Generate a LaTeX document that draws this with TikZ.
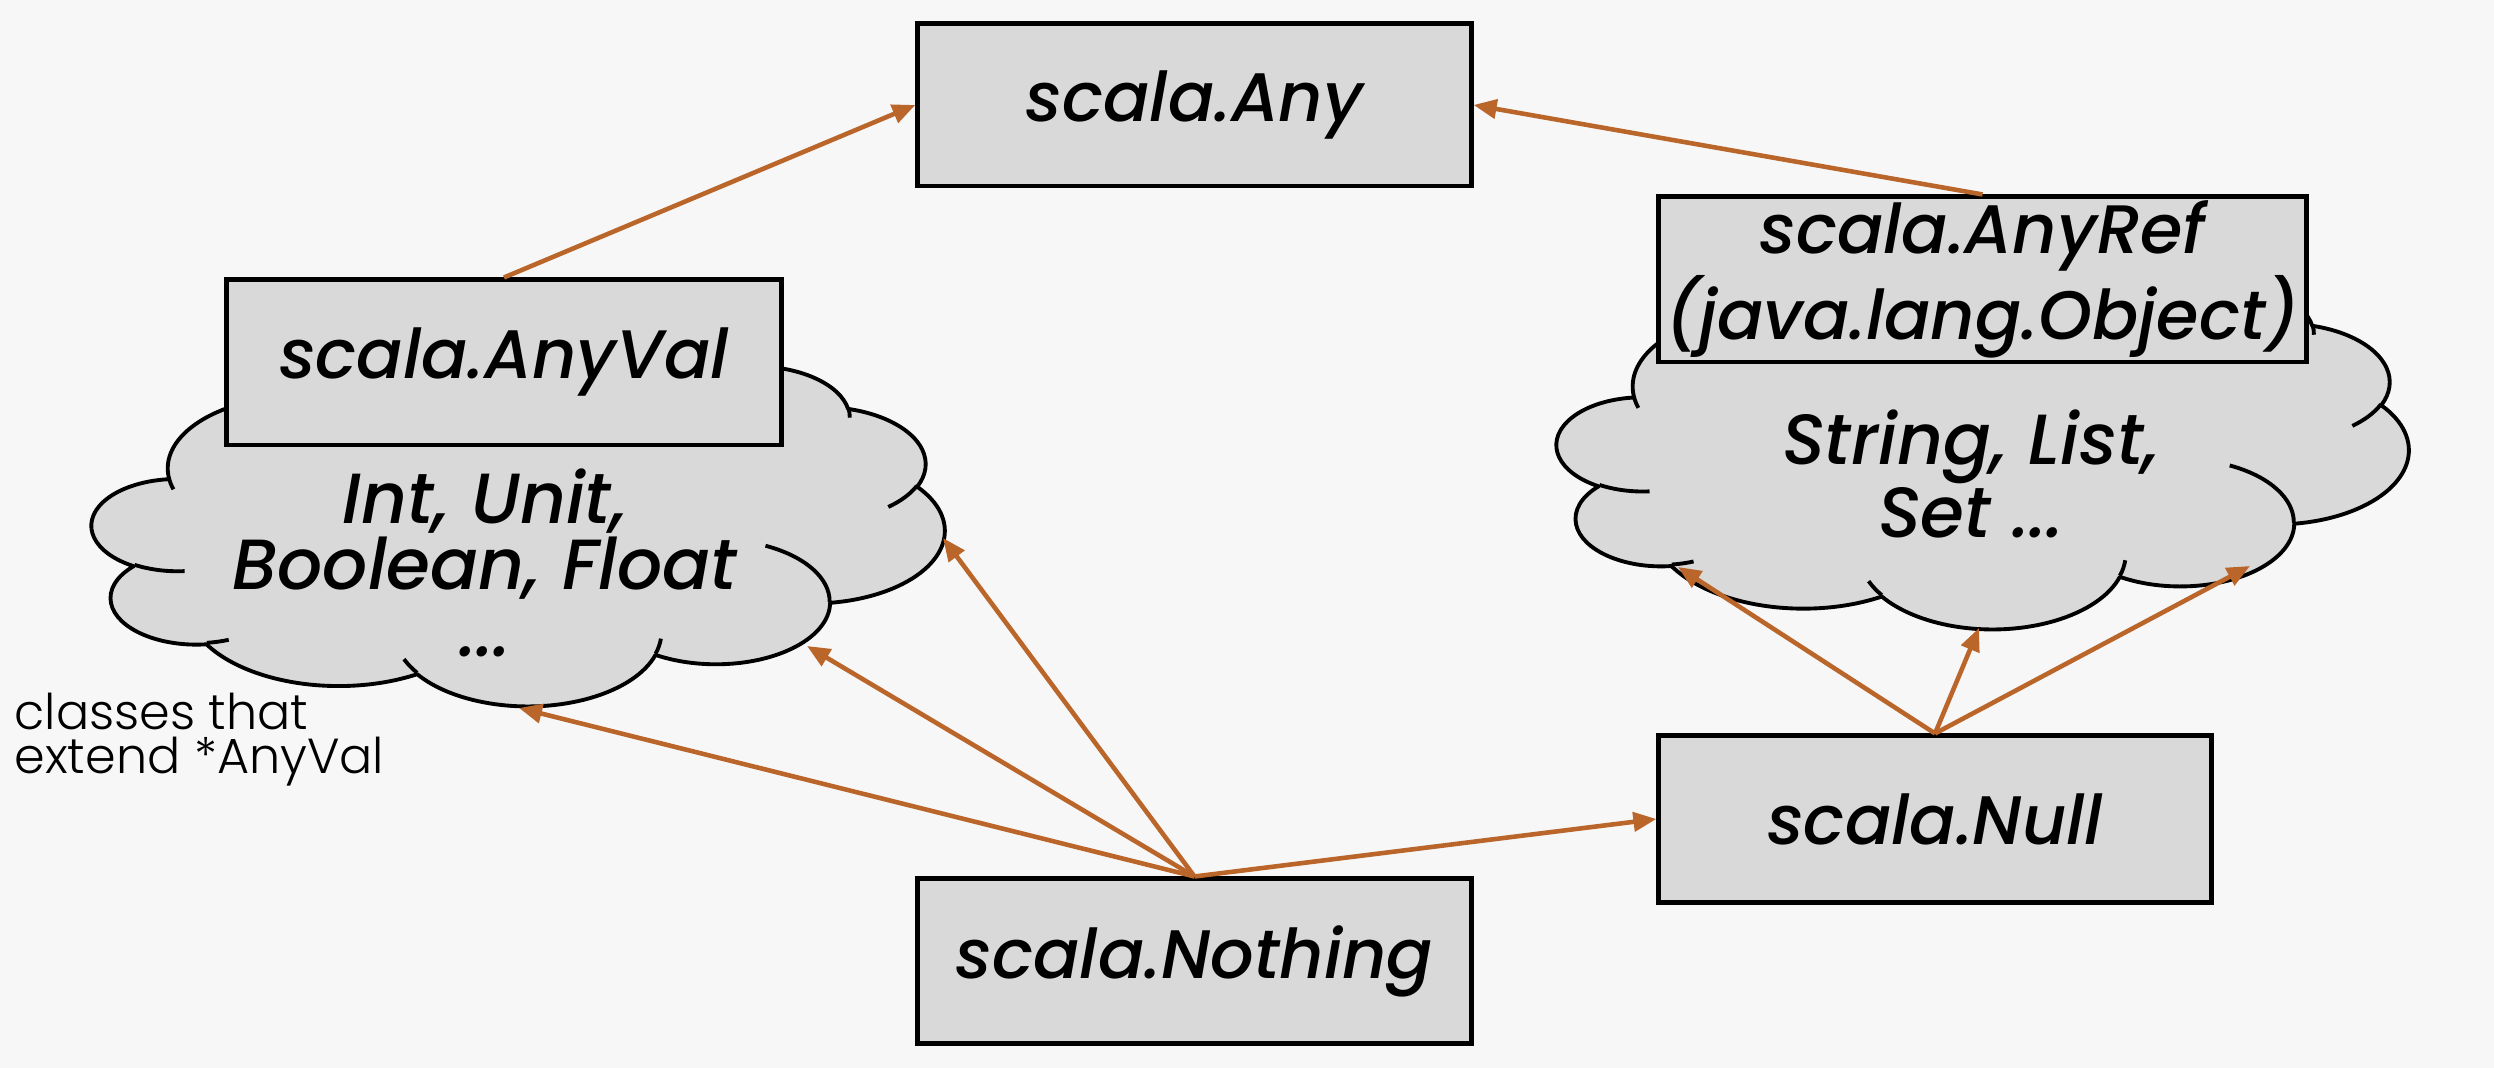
\documentclass[tikz,border=0pt]{standalone}
\usepackage{fontspec}
\usetikzlibrary{arrows.meta}
\newfontfamily\popm{Poppins}[UprightFont=* Medium, ItalicFont=* Medium Italic]
\newfontfamily\poplight{Poppins}[UprightFont=* Light]
\definecolor{bgc}{HTML}{F7F7F7}
\definecolor{boxc}{HTML}{D9D9D9}
\definecolor{arrc}{HTML}{BA6529}
\newcommand\carc[4]{%
  \pgfextra{%
    \pgfmathsetmacro\clA{atan2((#1)*sin(#3),(#2)*cos(#3))}%
    \pgfmathsetmacro\clB{atan2((#1)*sin((#3)+(#4)),(#2)*cos((#3)+(#4)))}%
    \pgfmathsetmacro\clD{mod(\clB-(\clA)+720,360)}%
    \global\let\gclA\clA\global\let\gclD\clD}%
  arc[start angle=\gclA, delta angle=\gclD, x radius=#1, y radius=#2]}
\newcommand\cloudoutline{%
 (3.900,14.370)
 \carc{6.753}{9.190}{-190.4875}{123.7805}
 \carc{5.333}{7.267}{-144.1024}{89.9452}
 \carc{4.365}{5.945}{-145.8079}{99.7230}
 \carc{4.857}{6.595}{-130.9861}{117.2417}
 \carc{5.333}{7.273}{-78.7089}{109.0269}
 \carc{6.775}{9.220}{-46.2673}{130.2690}
 \carc{5.785}{7.867}{0.6250}{114.0333}
 \carc{6.752}{9.215}{22.4516}{115.1726}
 \carc{7.720}{10.543}{66.2426}{75.7110}
 \carc{4.360}{5.918}{-274.9421}{146.7356}
 \carc{4.345}{5.945}{-246.8285}{152.5189}
 -- cycle}
\newcommand\cloudinner{%
 (4.693,26.177) \carc{4.345}{5.945}{86.7420}{26.4295}
 (6.928,34.899) \carc{4.360}{5.918}{73.6105}{11.4475}
 (16.478,39.090) \carc{6.752}{9.215}{137.6242}{14.0811}
 (28.827,34.751) \carc{6.752}{9.215}{6.4533}{15.9984}
 (34.129,22.954) \carc{5.785}{7.867}{-70.2924}{70.9174}
 (41.798,15.354) \carc{5.333}{7.273}{30.3180}{27.7515}
 (38.324,5.426) \carc{4.857}{6.595}{-13.7443}{14.8589}
 (29.078,3.952) \carc{4.857}{6.595}{-149.1815}{18.1954}
 (22.141,4.720) \carc{4.365}{5.945}{-163.4943}{17.6864}
 (14.000,5.192) \carc{6.753}{9.190}{-66.7070}{12.3194}
 (4.127,15.789) \carc{6.753}{9.190}{157.6544}{11.8582}}
\tikzset{
  box/.style={draw=black, line width=1.4pt, fill=boxc, inner sep=0pt, align=center,
    font=\popm\itshape\fontsize{19.5}{19}\selectfont},
  cloudtext/.style={inner sep=0pt, align=center, font=\popm\itshape\fontsize{20.2}{15.2}\selectfont},
  cloudfill/.style={fill=boxc, draw=black, line width=1.1pt, line join=round},
  cloudline/.style={draw=black, line width=1.1pt},
  conn/.style={draw=arrc, line width=1.3pt, -{Triangle[length=0.23cm,width=0.19cm]}},
}
\begin{document}
\begin{tikzpicture}[x=0.01cm, y=-0.01cm]
\fill[bgc] (0,0) rectangle (2494,1068);
\useasboundingbox (0,0) rectangle (2494,1068);
% clouds
\begin{scope}[shift={(92,365)}, x=0.19722cm, y=-0.07870cm]
  \path[cloudfill] \cloudoutline;
  \draw[cloudline] \cloudinner;
\end{scope}
\begin{scope}[shift={(1557,281)}, x=0.19699cm, y=-0.08032cm]
  \path[cloudfill] \cloudoutline;
  \draw[cloudline] \cloudinner;
\end{scope}
% boxes
\node[box, minimum width=5.53cm, minimum height=1.62cm] (any) at (1194.5,105) {scala.Any};
\node[box, minimum width=5.54cm, minimum height=1.65cm] (anyval) at (504,362.5) {scala.AnyVal};
\node[box, minimum width=6.47cm, minimum height=1.65cm] (anyref) at (1982.5,279.5) {scala.AnyRef\\(java.lang.Object)};
\node[box, minimum width=5.52cm, minimum height=1.66cm] (null) at (1935,819) {scala.Null};
\node[box, minimum width=5.53cm, minimum height=1.64cm] (nothing) at (1194.5,961) {scala.Nothing};
% cloud texts
\node[cloudtext] (valtxt) at (485,563) {Int, Unit,\\Boolean, Float\\[0.13cm]...};
\node[cloudtext] (reftxt) at (1971,474) {String, List,\\Set ...};
\node[inner sep=0pt, anchor=north west, align=left, font=\poplight\fontsize{14}{12.7}\selectfont] (note) at (14,692) {classes that\\extend *AnyVal};
% targets
\coordinate (lv1) at (519,708);
\coordinate (lv2) at (807,646);
\coordinate (lv3) at (943,538);
\coordinate (rv1) at (1678,567);
\coordinate (rv2) at (1979,628);
\coordinate (rv3) at (2250,566);
% connectors
\draw[conn] (anyval.north) -- (any.west);
\draw[conn] (anyref.north) -- (any.east);
\draw[conn] (nothing.north) -- (lv1);
\draw[conn] (nothing.north) -- (lv2);
\draw[conn] (nothing.north) -- (lv3);
\draw[conn] (nothing.north) -- (null.west);
\draw[conn] (null.north) -- (rv1);
\draw[conn] (null.north) -- (rv2);
\draw[conn] (null.north) -- (rv3);
\end{tikzpicture}
\end{document}
